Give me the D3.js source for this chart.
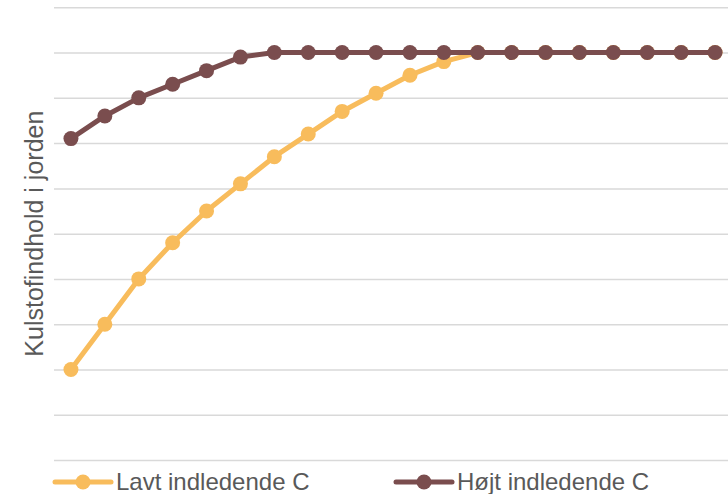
<!DOCTYPE html>
<html>
<head>
<meta charset="utf-8">
<script src="https://cdn.jsdelivr.net/npm/d3@7"></script>
<style>
  body { margin: 0; background: #fff; }
  text { font-family: "Liberation Sans", Arial, sans-serif; fill: #595959; }
</style>
</head>
<body>
<div id="chart"></div>
<script>
var width = 728, height = 494;
var margin = ({top: 7.3, right: -4, bottom: 34, left: 54});

// data
var aar = d3.range(1, 21);
var lavt = [2.0, 3.0, 4.0, 4.8, 5.5, 6.1, 6.7, 7.2, 7.7, 8.1, 8.5, 8.8, 9.0, 9.0, 9.0, 9.0, 9.0, 9.0, 9.0, 9.0];
var hoejt = [7.1, 7.6, 8.0, 8.3, 8.6, 8.9, 9.0, 9.0, 9.0, 9.0, 9.0, 9.0, 9.0, 9.0, 9.0, 9.0, 9.0, 9.0, 9.0, 9.0];
var yTicks = d3.range(0, 11);
var serier = [
  {navn: "Lavt indledende C", vaerdier: lavt, farve: "#F8BC5C"},
  {navn: "Højt indledende C", vaerdier: hoejt, farve: "#7A4D4E"}
];
var yTitel = "Kulstofindhold i jorden";

var x = d3.scalePoint()
  .domain(aar)
  .range([margin.left, width - margin.right])
  .padding(0.5);

var y = d3.scaleLinear()
  .domain([0, 10])
  .range([height - margin.bottom, margin.top]);

var svg = d3.select("#chart")
  .append("svg")
    .attr("width", width)
    .attr("height", height);

// gridlines
svg.append("g")
  .call(d3.axisLeft(y).tickValues(yTicks).tickSize(-(width - margin.left - margin.right)).tickFormat(""))
  .attr("transform", `translate(${margin.left},0)`)
  .call(g => g.select(".domain").remove())
  .call(g => g.selectAll(".tick line").attr("stroke", "#D9D9D9").attr("stroke-width", 1.5));

// y title
svg.append("text")
  .attr("transform", `translate(43,${(y(0) + y(10)) / 2}) rotate(-90)`)
  .attr("text-anchor", "middle")
  .style("font-size", "25px")
  .text(yTitel);

var line = d3.line()
  .x((d, i) => x(aar[i]))
  .y(d => y(d));

serier.forEach(function(s){
  svg.append("path")
    .datum(s.vaerdier)
    .attr("fill", "none")
    .attr("stroke", s.farve)
    .attr("stroke-width", 5)
    .attr("stroke-linejoin", "round")
    .attr("d", line);

  svg.append("g")
    .selectAll("circle")
    .data(s.vaerdier)
    .join("circle")
      .attr("cx", (d, i) => x(aar[i]))
      .attr("cy", d => y(d))
      .attr("r", 7.5)
      .attr("fill", s.farve);
});

// legend
var legX = [55, 396];
serier.forEach(function(s, i){
  var g = svg.append("g").attr("transform", `translate(${legX[i]},482)`);
  g.append("line")
    .attr("x1", 0).attr("x2", 56)
    .attr("stroke", s.farve)
    .attr("stroke-width", 5)
    .attr("stroke-linecap", "round");
  g.append("circle")
    .attr("cx", 28)
    .attr("r", 7.5)
    .attr("fill", s.farve);
  g.append("text")
    .attr("x", 61)
    .attr("y", 8)
    .style("font-size", "24px")
    .text(s.navn);
});
</script>
</body>
</html>
